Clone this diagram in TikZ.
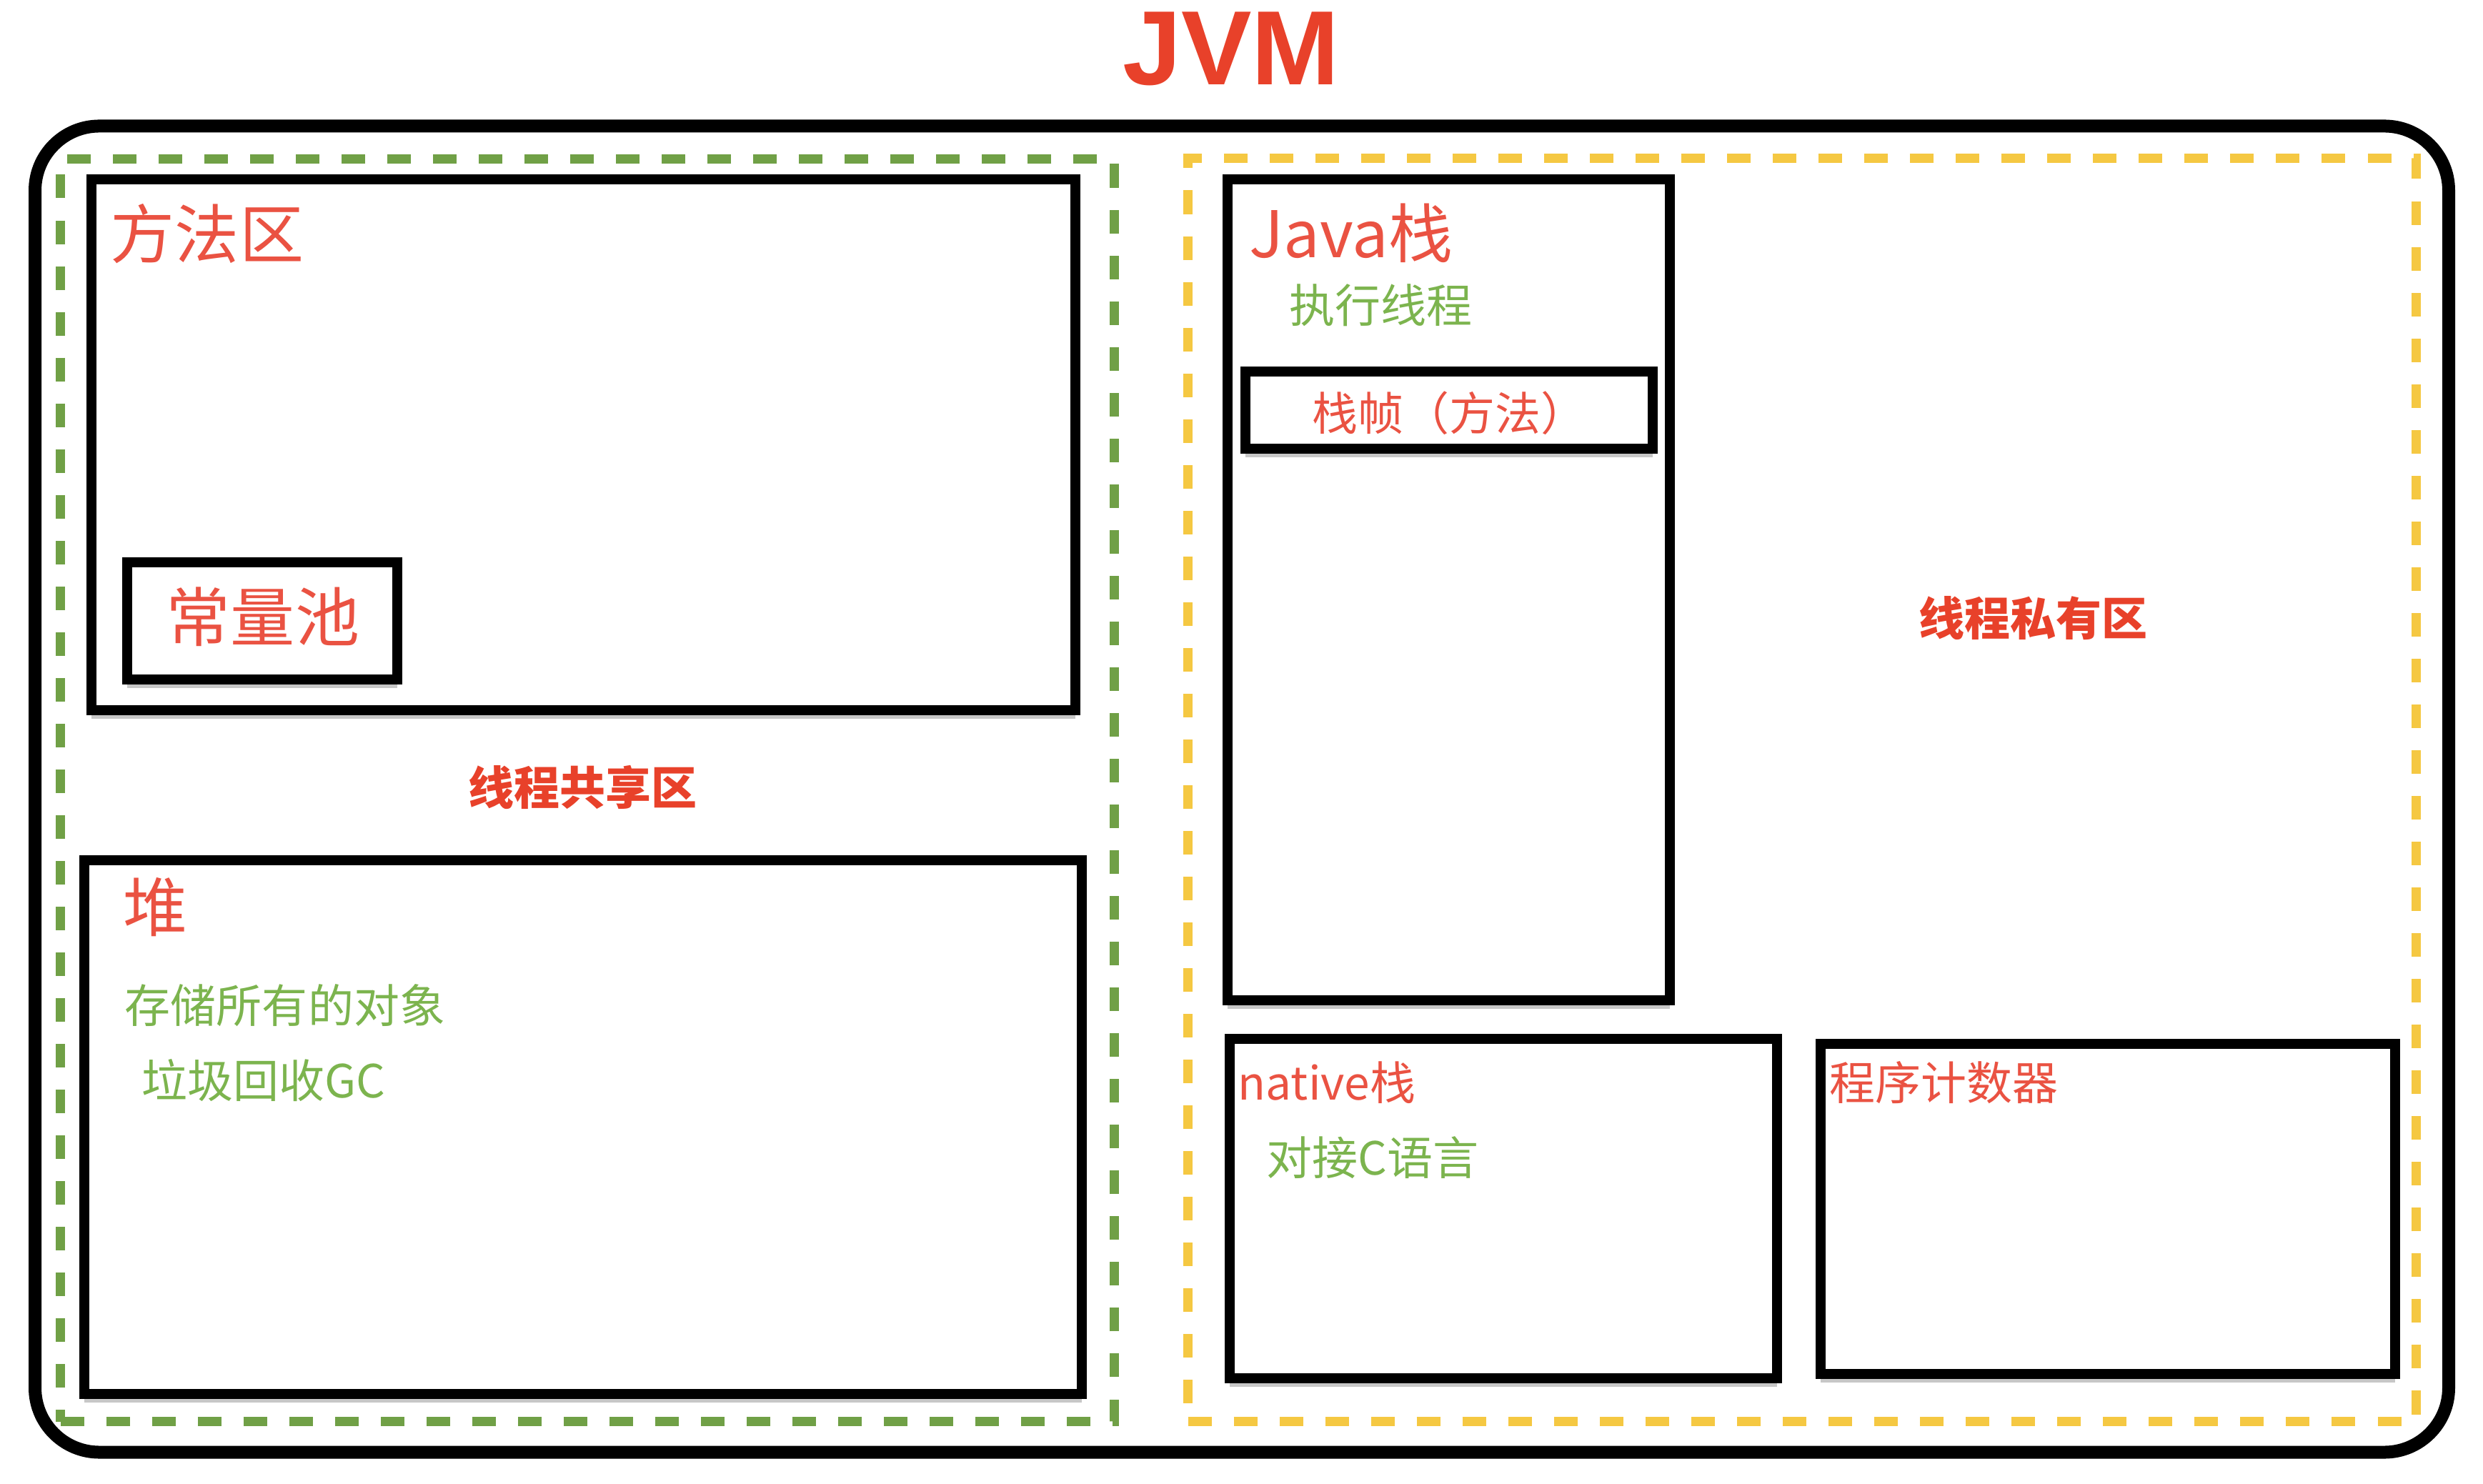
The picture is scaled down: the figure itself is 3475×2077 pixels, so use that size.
\documentclass[tikz,border=0pt]{standalone}
\usepackage{fontspec}
\setmainfont{Noto Sans CJK SC}
\newfontfamily\titlefont{Liberation Sans}
\usetikzlibrary{shadows}
\definecolor{titlered}{RGB}{232,65,42}
\definecolor{labred}{RGB}{234,82,66}
\definecolor{labgreen}{RGB}{124,180,78}
\definecolor{dashgreen}{RGB}{112,160,70}
\definecolor{dashyellow}{RGB}{245,200,66}
\tikzset{
  memblock/.style={draw=black, line width=0.14cm, fill=white, inner sep=0pt,
    drop shadow={shadow xshift=0cm, shadow yshift=-0.12cm, opacity=0.22, fill=black}},
  zone/.style={line width=0.13cm, dash pattern=on 0.33cm off 0.31cm, inner sep=0pt},
  bigred/.style={text=labred, inner sep=0pt, font=\fontsize{25.6}{30}\selectfont},
  midred/.style={text=labred, inner sep=0pt, font=\fontsize{18.2}{22}\selectfont},
  midgreen/.style={text=labgreen, inner sep=0pt, font=\fontsize{18.2}{22}\selectfont},
  zonelabel/.style={text=titlered, inner sep=0pt, font=\fontsize{18.2}{22}\bfseries\selectfont},
}
\begin{document}
\begin{tikzpicture}[x=0.01cm, y=-0.01cm]
\useasboundingbox (0,0) rectangle (3475,2077);
% title
\node[text=titlered, inner sep=0pt, font=\titlefont\fontsize{42}{48}\bfseries\selectfont] (title) at (1723,68) {JVM};
% outer JVM frame
\node[draw=black, line width=0.18cm, rounded corners=0.9cm, inner sep=0pt,
  minimum width=33.76cm, minimum height=18.55cm] (jvm) at (1738,1104.5) {};
% zones
\node[zone, draw=dashgreen, minimum width=14.74cm, minimum height=17.66cm] (shared) at (822,1106) {};
\node[zone, draw=dashyellow, minimum width=17.18cm, minimum height=17.67cm] (private) at (2522,1105.5) {};
% method area
\node[memblock, minimum width=13.77cm, minimum height=7.43cm] (method) at (816.5,622.5) {};
\node[memblock, minimum width=3.78cm, minimum height=1.64cm] (pool) at (367,869) {};
% heap
\node[memblock, minimum width=13.96cm, minimum height=7.47cm] (heap) at (816,1577.5) {};
% java stack
\node[memblock, minimum width=6.19cm, minimum height=11.49cm] (jstack) at (2027.5,825.5) {};
\node[memblock, minimum width=5.70cm, minimum height=1.08cm] (frame) at (2028,574) {};
% native stack
\node[memblock, minimum width=7.66cm, minimum height=4.75cm] (native) at (2104,1691.5) {};
% program counter
\node[memblock, minimum width=8.04cm, minimum height=4.62cm] (pc) at (2950,1692) {};
% labels
\node[bigred] (methodlbl) at (290,327) {方法区};
\node[bigred] (poollbl) at (368,863) {常量池};
\node[bigred] (heaplbl) at (218,1270) {堆};
\node[bigred, anchor=base west] (jstacklbl) at (1748,361) {Java栈};
\node[midgreen] (threadlbl) at (1932,427) {执行线程};
\node[midred, anchor=west] (framelbl) at (1836,578) {栈帧（方法）};
\node[zonelabel] (privatelbl) at (2845,865) {线程私有区};
\node[zonelabel] (sharedlbl) at (815,1102) {线程共享区};
\node[midgreen] (objlbl) at (399,1407) {存储所有的对象};
\node[midgreen] (gclbl) at (369,1512) {垃圾回收GC};
\node[midred, anchor=base west] (nativelbl) at (1732,1540) {native栈};
\node[midgreen] (clbl) at (1921,1620) {对接C语言};
\node[midred] (pclbl) at (2720,1515) {程序计数器};
\end{tikzpicture}
\end{document}
